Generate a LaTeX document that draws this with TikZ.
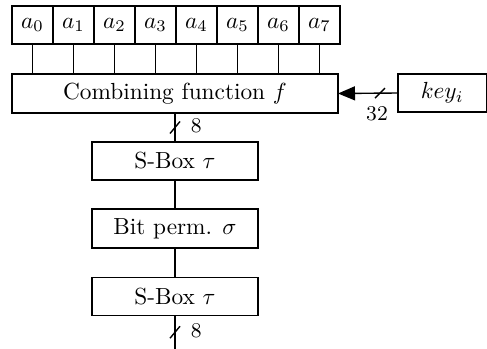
\documentclass[tikz,border=0pt]{standalone}
\usetikzlibrary{arrows.meta}
\begin{document}
\begin{tikzpicture}[x=0.4292pt,y=-0.4292pt,
  box/.style={draw, line width=0.6pt, inner sep=0pt, outer sep=0pt, minimum height={38*0.4292pt}},
  cell/.style={box, minimum width={41*0.4292pt}},
  wire/.style={line width=0.6pt},
  slash/.style={line width=0.6pt},
  lbl/.style={inner sep=1pt, font=\small}]
\useasboundingbox (0,0) rectangle (487,349);
\foreach \i in {0,...,7} \node[cell] (a\i) at ({32.5+41*\i},25) {$a_{\i}$};
\node[box, minimum width={326*0.4292pt}, minimum height={39*0.4292pt}] (f) at (175,93.5) {Combining function $f$};
\node[box, minimum width={88.5*0.4292pt}] (key) at (442.25,93) {$key_i$};
\node[box, minimum width={166*0.4292pt}] (s1) at (175,161) {S-Box $\tau$};
\node[box, minimum width={166*0.4292pt}, minimum height={39*0.4292pt}] (bp) at (175,228.5) {Bit perm. $\sigma$};
\node[box, minimum width={166*0.4292pt}] (s2) at (175,296.5) {S-Box $\tau$};
\coordinate (out) at (175,349);
\foreach \i in {0,...,7} \draw[wire] (a\i.south) -- (a\i.south |- f.north);
% f -> s1 with bus width 8
\draw[wire] (f.south) -- coordinate[pos=0.5] (m1) (s1.north);
\draw[slash] ([shift={(-5,6)}]m1) -- ([shift={(5,-6)}]m1);
\node[lbl, anchor=west] at ([shift={(13,-2)}]m1) {8};
\draw[wire] (s1.south) -- (bp.north);
\draw[wire] (bp.south) -- (s2.north);
\draw[wire] (s2.south) -- coordinate[pos=0.5] (m2) (out);
\draw[slash] ([shift={(-5,6)}]m2) -- ([shift={(5,-6)}]m2);
\node[lbl, anchor=west] at ([shift={(13,-2)}]m2) {8};
% key -> f with bus width 32
\draw[wire, -{Triangle[length=7.3pt,width=6pt]}] (key.west) -- coordinate[pos=0.3] (k) (f.east);
\draw[slash] ([shift={(-5,5)}]k) -- ([shift={(5,-5)}]k);
\node[lbl, anchor=north] at ([shift={(-3,11)}]k) {32};
\end{tikzpicture}
\end{document}
